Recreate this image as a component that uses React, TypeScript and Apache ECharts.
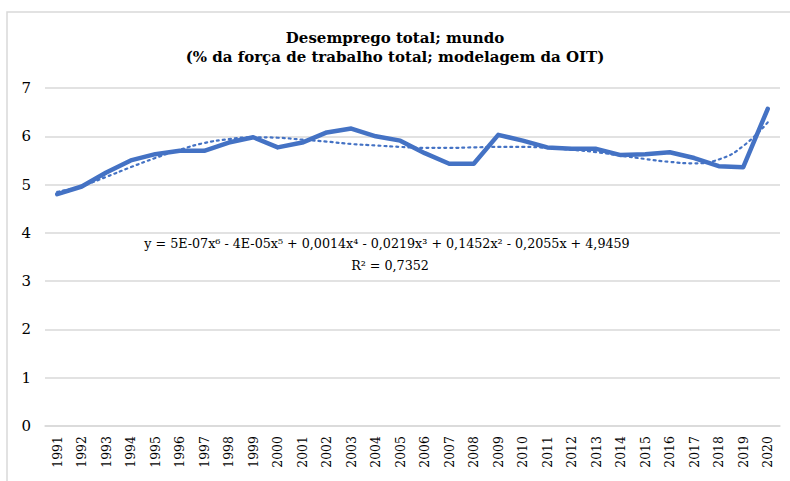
import React, { useEffect, useRef } from "react";
import * as echarts from "echarts";

const years = [
  "1991", "1992", "1993", "1994", "1995", "1996", "1997", "1998", "1999", "2000",
  "2001", "2002", "2003", "2004", "2005", "2006", "2007", "2008", "2009", "2010",
  "2011", "2012", "2013", "2014", "2015", "2016", "2017", "2018", "2019", "2020",
];

const unemployment = [
  4.8, 4.96, 5.25, 5.5, 5.63, 5.7, 5.7, 5.87, 5.98, 5.77,
  5.87, 6.08, 6.16, 6.0, 5.91, 5.65, 5.43, 5.43, 6.03, 5.91,
  5.77, 5.74, 5.74, 5.61, 5.63, 5.67, 5.55, 5.38, 5.36, 6.57,
];

const trend = [
  4.85, 4.97, 5.16, 5.36, 5.55, 5.72, 5.86, 5.94, 5.98, 5.97,
  5.93, 5.89, 5.84, 5.81, 5.78, 5.76, 5.76, 5.77, 5.78, 5.78,
  5.76, 5.72, 5.67, 5.6, 5.53, 5.47, 5.44, 5.52, 5.8, 6.29,
];

const yMin = 0;
const yMax = 7;
const yInterval = 1;

const titleLines = [
  "Desemprego total; mundo",
  "(% da força de trabalho total; modelagem da OIT)",
];

const equationLines = [
  "y = 5E-07x⁶ - 4E-05x⁵ + 0,0014x⁴ - 0,0219x³ + 0,1452x² - 0,2055x + 4,9459",
  "R² = 0,7352",
];

const FONT = "'DejaVu Serif', 'Liberation Serif', serif";
const BLUE = "#4472C4";

export default function App() {
  const ref = useRef<HTMLDivElement>(null);

  useEffect(() => {
    if (!ref.current) return;
    const chart = echarts.init(ref.current, null, { renderer: "svg" });
    chart.setOption({
      animation: false,
      backgroundColor: "#ffffff",
      title: {
        text: titleLines.join("\n"),
        left: "center",
        top: 23,
        textStyle: {
          fontFamily: FONT,
          fontSize: 15,
          fontWeight: "bold",
          color: "#000000",
          lineHeight: 19,
        },
      },
      grid: { left: 45, right: 10, top: 88, bottom: 55 },
      xAxis: {
        type: "category",
        data: years,
        boundaryGap: true,
        axisLine: { show: true, lineStyle: { color: "#d9d9d9", width: 1.5 } },
        axisTick: { show: false },
        axisLabel: {
          rotate: 90,
          interval: 0,
          margin: 10,
          fontFamily: FONT,
          fontSize: 12.5,
          color: "#000000",
        },
      },
      yAxis: {
        type: "value",
        min: yMin,
        max: yMax,
        interval: yInterval,
        axisLine: { show: false },
        axisTick: { show: false },
        splitLine: { lineStyle: { color: "#d9d9d9", width: 1.5 } },
        axisLabel: {
          margin: 14,
          fontFamily: FONT,
          fontSize: 15,
          color: "#000000",
        },
      },
      series: [
        {
          name: "Desemprego",
          type: "line",
          data: unemployment,
          symbol: "none",
          lineStyle: { color: BLUE, width: 4.5, join: "round", cap: "round" },
          z: 3,
        },
        {
          name: "Tendência",
          type: "line",
          data: trend,
          symbol: "none",
          smooth: true,
          lineStyle: { color: BLUE, width: 2.2, type: [2, 4], cap: "round" },
          z: 4,
        },
      ],
      graphic: [
        {
          type: "rect",
          shape: { x: 7, y: 12, width: 800, height: 480 },
          style: { fill: "none", stroke: "#d9d9d9", lineWidth: 1.5 },
          silent: true,
        },
        {
          type: "text",
          x: 387,
          y: 243,
          style: {
            text: equationLines[0],
            fontFamily: FONT,
            fontSize: 12.7,
            fill: "#000000",
            align: "center",
            verticalAlign: "middle",
          },
        },
        {
          type: "text",
          x: 390,
          y: 265,
          style: {
            text: equationLines[1],
            fontFamily: FONT,
            fontSize: 12.7,
            fill: "#000000",
            align: "center",
            verticalAlign: "middle",
          },
        },
      ],
    });
    return () => chart.dispose();
  }, []);

  return (
    <div
      ref={ref}
      style={{ position: "fixed", left: 0, top: 0, width: 790, height: 481 }}
    />
  );
}
